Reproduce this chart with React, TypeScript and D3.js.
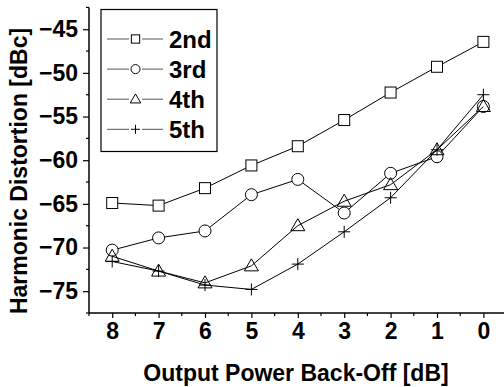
import * as d3 from "d3";
import { useEffect, useRef } from "react";

// output power back-off [dB]
const backOff = [8, 7, 6, 5, 4, 3, 2, 1, 0];

// harmonic distortion [dBc]
const second = [-64.9, -65.2, -63.2, -60.6, -58.4, -55.4, -52.25, -49.3, -46.45];
const third = [-70.3, -68.9, -68.1, -63.95, -62.2, -66.05, -61.5, -59.6, -53.85];
const fourth = [-71.0, -72.7, -74.05, -72.1, -67.5, -64.7, -62.8, -58.8, -53.85];
const fifth = [-71.6, -72.7, -74.3, -74.8, -71.9, -68.2, -64.3, -58.8, -52.5];

const seriesNames = ["2nd", "3rd", "4th", "5th"];
const markerKinds = ["square", "circle", "triangle", "plus"];

const yTicks = [-75, -70, -65, -60, -55, -50, -45];
const yMinor = [-77.5, -72.5, -67.5, -62.5, -57.5, -52.5, -47.5, -42.5];
const xMinor = [8.5, 7.5, 6.5, 5.5, 4.5, 3.5, 2.5, 1.5, 0.5];

const FONT = "Arial, 'Liberation Sans', sans-serif";

const drawMarker = (g, kind, x, y, s = 1) => {
	if (kind === "square") {
		g.append("rect")
			.attr("x", x - 5.5 * s).attr("y", y - 5.5 * s)
			.attr("width", 11 * s).attr("height", 11 * s)
			.attr("fill", "white").attr("stroke", "black").attr("stroke-width", 1);
	} else if (kind === "circle") {
		g.append("circle")
			.attr("cx", x).attr("cy", y).attr("r", 6 * s)
			.attr("fill", "white").attr("stroke", "black").attr("stroke-width", 1);
	} else if (kind === "triangle") {
		g.append("path")
			.attr("d", `M${x},${y - 7 * s} L${x + 7 * s},${y + 5 * s} L${x - 7 * s},${y + 5 * s} Z`)
			.attr("fill", "none").attr("stroke", "black").attr("stroke-width", 1);
	} else {
		g.append("path")
			.attr("d", `M${x - 6 * s},${y} L${x + 6 * s},${y} M${x},${y - 6 * s} L${x},${y + 6 * s}`)
			.attr("fill", "none").attr("stroke", "black").attr("stroke-width", 1);
	}
};

const App = () => {
	const chartRef = useRef(null);

	useEffect(() => {
		const svg = d3.select(chartRef.current);
		svg.selectAll("*").remove();

		const x = d3.scaleLinear().domain([8.5, -0.5]).range([89, 506.6]);
		const y = d3.scaleLinear().domain([-77.5, -42.5]).range([313, 7.4]);

		const series = [second, third, fourth, fifth];

		// axes
		const xAxis = d3.axisBottom(x).tickValues(backOff).tickSize(5).tickPadding(5)
			.tickFormat(d3.format("d"));
		const gx = svg.append("g").attr("transform", "translate(0,313)").call(xAxis);
		gx.select(".domain").remove();
		gx.append("line").attr("x1", 89).attr("x2", 506.6).attr("stroke", "black").attr("stroke-width", 1.5);
		gx.selectAll(".tick line").attr("stroke-width", 1.2);
		gx.selectAll(".tick text")
			.attr("font-family", FONT).attr("font-size", 23).attr("font-weight", "bold").attr("fill", "black");
		gx.selectAll(".minor").data(xMinor).enter().append("line")
			.attr("x1", d => x(d)).attr("x2", d => x(d)).attr("y1", 0).attr("y2", 3)
			.attr("stroke", "black").attr("stroke-width", 1.2);

		const yAxis = d3.axisLeft(y).tickValues(yTicks).tickSize(6).tickPadding(5);
		const gy = svg.append("g").attr("transform", "translate(89,0)").call(yAxis);
		gy.select(".domain").remove();
		gy.append("line").attr("y1", 7.4).attr("y2", 313).attr("stroke", "black").attr("stroke-width", 1.5);
		gy.selectAll(".tick line").attr("stroke-width", 1.2);
		gy.selectAll(".tick text")
			.attr("font-family", FONT).attr("font-size", 23).attr("font-weight", "bold").attr("fill", "black");
		gy.selectAll(".minor").data(yMinor).enter().append("line")
			.attr("x1", -3).attr("x2", 0).attr("y1", d => y(d)).attr("y2", d => y(d))
			.attr("stroke", "black").attr("stroke-width", 1.2);

		// titles
		svg.append("text")
			.attr("x", 296).attr("y", 381)
			.attr("text-anchor", "middle")
			.attr("font-family", FONT).attr("font-size", 23).attr("font-weight", "bold")
			.text("Output Power Back-Off [dB]");
		svg.append("text")
			.attr("transform", "translate(27,171) rotate(-90)")
			.attr("text-anchor", "middle")
			.attr("font-family", FONT).attr("font-size", 23).attr("font-weight", "bold")
			.text("Harmonic Distortion [dBc]");

		// lines and markers
		const line = d3.line().x((d, i) => x(backOff[i])).y(d => y(d));
		series.forEach((vals, k) => {
			const g = svg.append("g");
			g.append("path")
				.attr("d", line(vals))
				.attr("fill", "none").attr("stroke", "black").attr("stroke-width", 1);
			vals.forEach((v, i) => drawMarker(g, markerKinds[k], x(backOff[i]), y(v)));
		});

		// legend
		const lg = svg.append("g");
		lg.append("rect")
			.attr("x", 101).attr("y", 9.5).attr("width", 116).attr("height", 142)
			.attr("fill", "white").attr("stroke", "black").attr("stroke-width", 1.2);
		const rowY = d3.scalePoint().domain(seriesNames).range([39, 129.3]);
		seriesNames.forEach((name, k) => {
			const cy = rowY(name);
			lg.append("line")
				.attr("x1", 107).attr("x2", 129).attr("y1", cy).attr("y2", cy)
				.attr("stroke", "#555").attr("stroke-width", 1);
			lg.append("line")
				.attr("x1", 142).attr("x2", 163).attr("y1", cy).attr("y2", cy)
				.attr("stroke", "#555").attr("stroke-width", 1);
			drawMarker(lg, markerKinds[k], 135.5, cy, 0.75);
			lg.append("text")
				.attr("x", 169).attr("y", cy).attr("dy", "0.36em")
				.attr("font-family", FONT).attr("font-size", 24).attr("font-weight", "bold")
				.text(name);
		});
	}, []);

	return (
		<svg ref={chartRef} width={504} height={387}
			style={{ position: "absolute", left: 0, top: 0, display: "block", background: "white" }}></svg>
	);
};

export default App;
